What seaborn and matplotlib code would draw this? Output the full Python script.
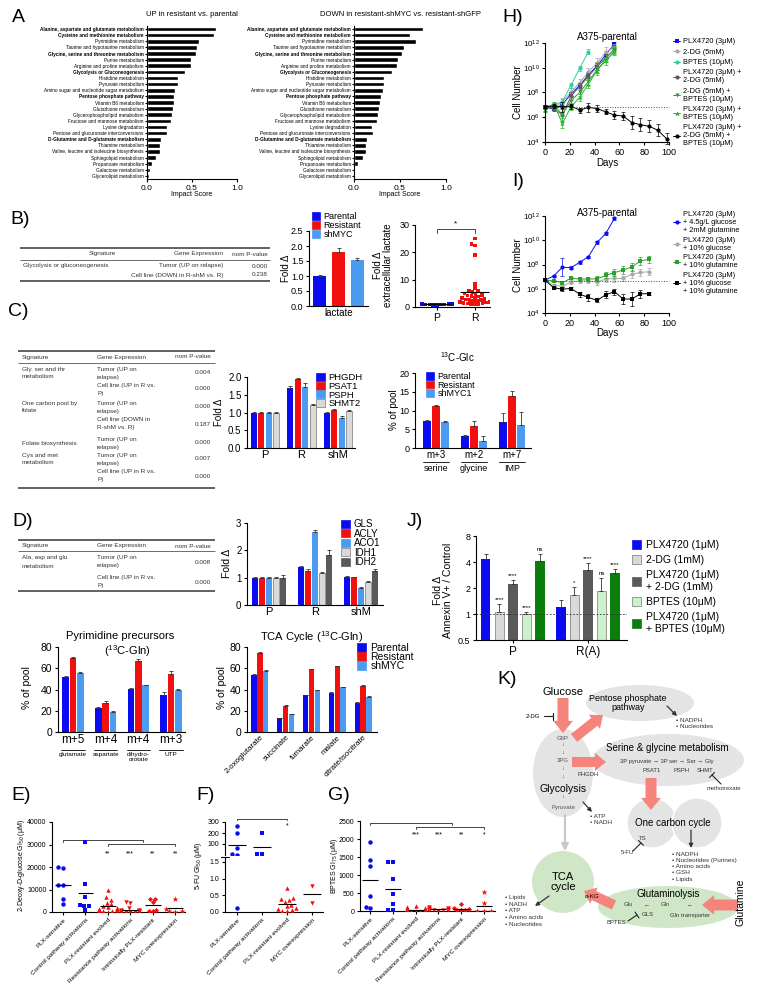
import numpy as np
import pandas as pd
import matplotlib
matplotlib.use('Agg')
import matplotlib.pyplot as plt
import seaborn as sns
from matplotlib.patches import Ellipse, Circle, FancyArrow, Patch
from matplotlib.ticker import NullLocator
from matplotlib.transforms import blended_transform_factory

# colours
BLUE = '#0b0bf2'
RED = '#f2100f'
LBLUE = '#4b9cf0'
LGRAY = '#d9d9d9'
DGRAY = '#5a5a5a'
LGREEN = '#ccf2cc'
DGREEN = '#0b7d0b'

# ---------------- A) pathway impact ----------------
pathways = [
    'Alanine, aspartate and glutamate metabolism',
    'Cysteine and methionine metabolism',
    'Pyrimidine metabolism',
    'Taurine and hypotaurine metabolism',
    'Glycine, serine and threonine metabolism',
    'Purine metabolism',
    'Arginine and proline metabolism',
    'Glycolysis or Gluconeogenesis',
    'Histidine metabolism',
    'Pyruvate metabolism',
    'Amino sugar and nucleotide sugar metabolism',
    'Pentose phosphate pathway',
    'Vitamin B6 metabolism',
    'Glutathione metabolism',
    'Glycerophospholipid metabolism',
    'Fructose and mannose metabolism',
    'Lysine degradation',
    'Pentose and glucuronate interconversions',
    'D-Glutamine and D-glutamate metabolism',
    'Thiamine metabolism',
    'Valine, leucine and isoleucine biosynthesis',
    'Sphingolipid metabolism',
    'Propanoate metabolism',
    'Galactose metabolism',
    'Glycerolipid metabolism',
]
bold_pathways = [
    'Alanine, aspartate and glutamate metabolism',
    'Cysteine and methionine metabolism',
    'Glycine, serine and threonine metabolism',
    'Glycolysis or Gluconeogenesis',
    'Pentose phosphate pathway',
    'D-Glutamine and D-glutamate metabolism',
]
impact_up = [0.77, 0.75, 0.58, 0.555, 0.54, 0.49, 0.485, 0.425, 0.345, 0.34, 0.31, 0.305,
             0.30, 0.29, 0.28, 0.27, 0.225, 0.22, 0.155, 0.14, 0.14, 0.105, 0.05, 0.03, 0.02]
impact_down = [0.75, 0.61, 0.67, 0.54, 0.52, 0.48, 0.47, 0.41, 0.33, 0.33, 0.32, 0.29,
               0.28, 0.275, 0.265, 0.25, 0.20, 0.205, 0.14, 0.13, 0.125, 0.095, 0.04, 0.007, 0.004]

# ---------------- B) lactate ----------------
lact_lines = ['Parental', 'Resistant', 'shMYC']
lact_fold = [1.0, 1.8, 1.55]
lact_err = [0.02, 0.15, 0.05]
ext_lact_p = [0.8, 0.9, 1.0, 1.1, 1.2, 0.95, 1.05, 0.85, 1.15, 1.0, 0.9, 1.1, 1.0, 0.75, 1.25]
ext_lact_r = [25, 23, 22.5, 19, 8.5, 7, 6, 5.8, 5.5, 5, 4.8, 4.5, 4.2, 4, 3.8, 3.5, 3.2, 3,
              2.8, 2.6, 2.5, 2.4, 2.2, 2, 1.9, 1.8, 1.6, 1.5, 1.4, 1.3, 1.2, 1.1, 1]

tab_b_signature = ['Glycolysis or gluconeogenesis', '']
tab_b_expression = ['Tumor (UP on relapse)', 'Cell line (DOWN in R-shM vs. R)']
tab_b_pvalue = ['0.000', '0.238']

# ---------------- C) serine / glycine ----------------
tab_c_signature = ['Gly. ser and thr\nmetabolism', '', 'One carbon pool by\nfolate', '',
                   'Folate biosynthesis', 'Cys and met\nmetabolism', '']
tab_c_expression = ['Tumor (UP on\nrelapse)', 'Cell line (UP in R vs.\nP)', 'Tumor (UP on\nrelapse)',
                    'Cell line (DOWN in\nR-shM vs. R)', 'Tumor (UP on\nrelapse)', 'Tumor (UP on\nrelapse)',
                    'Cell line (UP in R vs.\nP)']
tab_c_pvalue = ['0.004', '0.000', '0.000', '0.187', '0.000', '0.007', '0.000']

ser_groups = ['P', 'R', 'shM']
ser_genes = ['PHGDH', 'PSAT1', 'PSPH', 'SHMT2']
phgdh = [1.0, 1.70, 1.0]
psat1 = [1.0, 1.95, 1.06]
psph = [1.0, 1.73, 0.85]
shmt2 = [1.0, 1.20, 1.04]
phgdh_err = [0.02, 0.05, 0.02]
psat1_err = [0.02, 0.03, 0.04]
psph_err = [0.02, 0.10, 0.04]
shmt2_err = [0.02, 0.05, 0.04]

glc_metab = ['serine', 'glycine', 'IMP']
glc_iso = ['m+3', 'm+2', 'm+7']
glc_lines = ['Parental', 'Resistant', 'shMYC1']
glc_parental = [7.2, 3.2, 7.0]
glc_resistant = [11.2, 5.9, 14.0]
glc_shmyc1 = [6.9, 1.9, 6.1]
glc_parental_err = [0.3, 0.4, 2.3]
glc_resistant_err = [0.3, 1.3, 1.2]
glc_shmyc1_err = [0.4, 1.3, 3.5]

# ---------------- D) glutamine ----------------
tab_d_signature = ['Ala, asp and glu\nmetabolism', '']
tab_d_expression = ['Tumor (UP on\nrelapse)', 'Cell line (UP in R vs.\nP)']
tab_d_pvalue = ['0.008', '0.000']

gln_genes = ['GLS', 'ACLY', 'ACO1', 'IDH1', 'IDH2']
gls = [1.0, 1.38, 1.04]
acly = [1.0, 1.26, 1.01]
aco1 = [1.0, 2.66, 0.64]
idh1 = [1.0, 1.16, 0.85]
idh2 = [1.0, 1.82, 1.24]
gls_err = [0.02, 0.06, 0.03]
acly_err = [0.02, 0.04, 0.03]
aco1_err = [0.02, 0.08, 0.02]
idh1_err = [0.03, 0.03, 0.04]
idh2_err = [0.08, 0.20, 0.07]

pyr_keys = ['glutamate', 'aspartate', 'dihydroorotate', 'UTP']
pyr_iso = ['m+5', 'm+4', 'm+4', 'm+3']
pyr_metab = ['glutamate', 'aspartate', 'dihydro-\norotate', 'UTP']
pyr_parental = [52, 22.8, 40.6, 34.4]
pyr_resistant = [70, 27, 67, 55]
pyr_shmyc = [55.6, 19, 44, 40]
pyr_parental_err = [0.5, 0.5, 0.8, 3.5]
pyr_resistant_err = [0.5, 2.0, 2.0, 2.0]
pyr_shmyc_err = [0.5, 0.3, 0.5, 0.5]

tca_metab = ['2-oxoglutarate', 'succinate', 'fumarate', 'malate', 'citrate/isocitrate']
tca_parental = [54, 12.8, 34.7, 36.9, 27.5]
tca_resistant = [74.7, 24.4, 59, 62, 43]
tca_shmyc = [57.5, 16.9, 39.4, 41.9, 33]
tca_parental_err = [0.8, 0.8, 0.3, 0.3, 0.5]
tca_resistant_err = [0.3, 0.8, 0.5, 0.5, 0.8]
tca_shmyc_err = [0.4, 0.4, 0.4, 0.4, 0.5]

# ---------------- E, F, G) GI50 ----------------
gi_cats = ['PLX-sensitive', 'Control pathway activations', 'PLX-resistant evolved',
           'Resistance pathway activations', 'Intrinsically PLX-resistant', 'MYC overexpression']
f_cats = ['PLX-sensitive', 'Control pathway activations', 'PLX-resistant evolved', 'MYC overexpression']
gi_markers = ['o', 's', '^', 'v', 'D', '*']

e_sens = [19500, 20000, 12200, 11800, 6000, 3700]
e_ctrl = [31000, 12300, 6700, 3300, 2600, 2800, 700]
e_evol = [9800, 6500, 5500, 4200, 3500, 2800, 2200, 1800, 1500, 1200, 900, 700, 500, 400, 300, 200]
e_path = [4500, 4200, 2000, 1000, 800, 600, 500, 400, 300, 200, 150, 100, 80, 60]
e_intr = [5800, 5600, 4500, 1000, 600, 300]
e_myc = [5800, 1200, 600, 300, 200]
e_sig = ['', '', '**', '***', '**', '**']

f_sens = [267, 201, 64, 13, 4, 0.13]
f_ctrl = [200, 12, 12]
f_evol = [0.72, 0.42, 0.38, 0.35, 0.3, 0.22, 0.18, 0.12, 0.08, 0.05, 0.03, 0.02]
f_myc = [0.78, 0.28]

g_sens = [1930, 1410, 1240, 420, 100, 70]
g_ctrl = [1360, 1360, 880, 480, 200, 20, 20]
g_evol = [150, 100, 80, 60, 50, 40, 30, 25, 20, 15, 10, 8, 5, 5, 3]
g_path = [100, 90, 70, 60, 50, 40, 35, 30, 25, 20, 15, 10]
g_intr = [190, 70, 50, 40, 30, 20]
g_myc = [520, 220, 10, 5, 5]
g_sig = ['', '', '***', '***', '**', '*']

# ---------------- H, I) growth curves (log10 cell number) ----------------
h_start = 6.83
days_h = [0, 7, 14, 21, 28, 35, 42, 49, 56]
days_h_bptes = [0, 7, 14, 21, 28, 35]
days_h_triple = [0, 7, 14, 21, 28, 35, 42, 49, 56, 63, 70, 77, 84, 91, 98]
h_plx = [6.85, 6.63, 7.03, 7.88, 8.58, 9.42, 10.15, 11.05, 11.9]
h_2dg = [6.85, 6.75, 7.25, 8.05, 8.8, 9.65, 10.4, 11.25, 11.65]
h_bptes = [6.85, 7.0, 7.25, 8.6, 9.96, 11.3]
h_plx_2dg = [6.85, 6.7, 6.2, 7.7, 8.5, 9.3, 10.1, 10.8, 11.5]
h_2dg_bptes = [6.55, 7.05, 6.2, 7.35, 8.0, 8.9, 9.85, 10.55, 11.3]
h_plx_bptes = [6.6, 7.1, 5.5, 6.85, 7.6, 8.7, 9.75, 10.75, 11.45]
h_triple = [6.85, 6.9, 6.85, 6.9, 6.57, 6.8, 6.7, 6.44, 6.17, 6.1, 5.57, 5.4, 5.27, 4.95, 4.27]
h_plx_err = [0.1, 0.1, 0.15, 0.2, 0.2, 0.25, 0.3, 0.3, 0.2]
h_2dg_err = [0.1, 0.1, 0.3, 0.3, 0.3, 0.3, 0.35, 0.4, 0.3]
h_bptes_err = [0.1, 0.1, 0.2, 0.2, 0.2, 0.2]
h_plx_2dg_err = [0.1, 0.1, 0.6, 0.3, 0.3, 0.3, 0.3, 0.3, 0.3]
h_2dg_bptes_err = [0.1, 0.1, 0.5, 0.3, 0.3, 0.3, 0.3, 0.3, 0.3]
h_plx_bptes_err = [0.1, 0.1, 0.4, 0.3, 0.3, 0.3, 0.3, 0.3, 0.3]
h_triple_err = [0.1, 0.15, 0.4, 0.2, 0.2, 0.35, 0.3, 0.2, 0.3, 0.3, 0.5, 0.5, 0.5, 0.5, 0.45]
h_labels = ['PLX4720 (3μM)', '2-DG (5mM)', 'BPTES (10μM)', 'PLX4720 (3μM) +\n2-DG (5mM)',
            '2-DG (5mM) +\nBPTES (10μM)', 'PLX4720 (3μM) +\nBPTES (10μM)',
            'PLX4720 (3μM) +\n2-DG (5mM) +\nBPTES (10μM)']

i_start = 6.65
days_i = [0, 7, 14, 21, 28, 35, 42, 49, 56, 63, 70, 77, 84]
days_i_full = [0, 7, 14, 21, 28, 35, 42, 49, 56]
i_glc_gln = [6.7, 7.06, 7.77, 7.74, 8.18, 8.64, 9.82, 10.56, 11.8]
i_glc = [6.7, 6.3, 6.2, 6.54, 6.65, 6.65, 6.54, 6.8, 6.85, 6.85, 7.2, 7.35, 7.4]
i_gln = [6.7, 6.65, 6.5, 6.87, 6.8, 6.8, 6.82, 7.1, 7.33, 7.55, 7.8, 8.29, 8.43]
i_both = [6.7, 6.08, 5.97, 6.02, 5.56, 5.28, 5.04, 5.5, 5.77, 5.15, 5.15, 5.58, 5.6]
i_glc_gln_err = [0.05, 0.1, 0.75, 0.1, 0.1, 0.1, 0.1, 0.1, 0.1]
i_glc_err = [0.05, 0.1, 0.1, 0.15, 0.2, 0.2, 0.2, 0.25, 0.3, 0.2, 0.35, 0.3, 0.3]
i_gln_err = [0.05, 0.1, 0.1, 0.1, 0.15, 0.15, 0.2, 0.25, 0.3, 0.3, 0.35, 0.35, 0.3]
i_both_err = [0.05, 0.1, 0.15, 0.15, 0.2, 0.3, 0.15, 0.3, 0.25, 0.4, 0.6, 0.35, 0.1]
i_labels = ['PLX4720 (3μM)\n+ 4.5g/L glucose\n+ 2mM glutamine', 'PLX4720 (3μM)\n+ 10% glucose',
            'PLX4720 (3μM)\n+ 10% glutamine', 'PLX4720 (3μM)\n+ 10% glucose\n+ 10% glutamine']

# ---------------- J) apoptosis ----------------
j_groups = ['P', 'R(A)']
j_treat = ['PLX4720 (1μM)', '2-DG (1mM)', 'PLX4720 (1μM)\n+ 2-DG (1mM)', 'BPTES (10μM)',
           'PLX4720 (1μM)\n+ BPTES (10μM)']
j_plx = [4.34, 1.2]
j_2dg = [1.05, 1.66]
j_plx_2dg = [2.22, 3.2]
j_bptes = [1.0, 1.85]
j_plx_bptes = [4.1, 2.98]
j_plx_err = [0.55, 0.25]
j_2dg_err = [0.25, 0.4]
j_plx_2dg_err = [0.25, 0.7]
j_bptes_err = [0.05, 0.75]
j_plx_bptes_err = [0.8, 0.32]
j_plx_sig = ['', '']
j_2dg_sig = ['****', '*']
j_plx_2dg_sig = ['****', '****']
j_bptes_sig = ['****', 'ns']
j_plx_bptes_sig = ['ns', '****']

# ---------------- figure ----------------
sns.set_theme(style='ticks')
plt.rcParams['font.family'] = ['Liberation Sans', 'DejaVu Sans']
plt.rcParams.update({
    'mathtext.default': 'regular', 'axes.facecolor': 'none', 'text.color': 'black',
    'axes.labelcolor': 'black', 'xtick.color': 'black', 'ytick.color': 'black',
    'axes.edgecolor': 'black', 'axes.linewidth': 0.8,
})

W, H = 757, 994
fig = plt.figure(figsize=(W / 100, H / 100), dpi=100)
ov = fig.add_axes([0, 0, 1, 1])
ov.set_xlim(0, W)
ov.set_ylim(H, 0)
ov.axis('off')


def add_ax(l, t, r, b):
    return fig.add_axes([l / W, 1 - b / H, (r - l) / W, (b - t) / H])


def txt(x, y, s, fs=4.6, ha='center', va='center', **kw):
    ov.text(x, y, s, fontsize=fs, ha=ha, va=va, **kw)


def style(ax, fs=6.5):
    sns.despine(ax=ax)
    ax.tick_params(labelsize=fs, length=2.5, width=0.8, pad=1.5)
    ax.set_xlabel('')
    ax.set_ylabel('')


def grouped_bars(ax, groups, series, values, errors, colors, width, gap):
    df = pd.DataFrame({'group': np.tile(groups, len(series)),
                       'series': np.repeat(series, len(groups)),
                       'value': np.concatenate(values)})
    sns.barplot(data=df, x='group', y='value', hue='series', order=groups, hue_order=series,
                palette=colors, saturation=1, width=width, gap=gap, errorbar=None,
                legend=False, ax=ax)
    for cont, errs, col in zip(ax.containers, errors, colors):
        xs = [b.get_x() + b.get_width() / 2 for b in cont]
        ys = [b.get_height() for b in cont]
        ax.errorbar(xs, ys, yerr=[np.zeros(len(errs)), errs], fmt='none', ecolor='#333333',
                    elinewidth=0.6, capsize=1.2, capthick=0.6, zorder=3)
        for b in cont:
            if col in (LGRAY, LGREEN):
                b.set_edgecolor('#777777')
                b.set_linewidth(0.5)
            else:
                b.set_linewidth(0)


def patch_legend(ax, labels, colors, x, y, fs, spacing=0.05):
    handles = [Patch(facecolor=c, edgecolor='#777777' if c in (LGRAY, LGREEN) else c, lw=0.5)
               for c in colors]
    ax.legend(handles, labels, loc='upper left', bbox_to_anchor=(x / W, 1 - y / H),
              bbox_transform=fig.transFigure, frameon=False, fontsize=fs, borderpad=0,
              borderaxespad=0, handlelength=0.9, handleheight=0.9, handletextpad=0.4,
              labelspacing=spacing)


def sub_labels(ax, labels, y_line, y_text, fs, half=0.33):
    bt = blended_transform_factory(ax.transData, ov.transData)
    for i, lab in enumerate(labels):
        ax.plot([i - half, i + half], [y_line, y_line], color='black', lw=0.6, transform=bt,
                clip_on=False)
        ax.text(i, y_text, lab, transform=bt, fontsize=fs, ha='center', va='top', linespacing=0.95)


def bracket(ax, x0, x1, y, drop):
    ax.plot([x0, x0, x1, x1], [y - drop, y, y, y - drop], color='#444444', lw=0.7, clip_on=False)


def table_lines(x0, x1, ys, widths):
    for y, lw in zip(ys, widths):
        ov.plot([x0, x1], [y, y], color='#555555', lw=lw, solid_capstyle='butt')


def multiline(x, y0, s, ha, step=8):
    for k, line in enumerate(s.split('\n')):
        txt(x, y0 + k * step, line, ha=ha, color='#333333')


# panel letters
for lab, x, y in [('A', 12, 17), ('B)', 10, 219), ('C)', 8, 312), ('D)', 12, 521), ('E)', 11, 795),
                  ('F)', 196, 795), ('G)', 328, 795), ('H)', 502, 17), ('I)', 512, 182),
                  ('J)', 407, 521), ('K)', 497, 680)]:
    txt(x, y, lab, fs=14, ha='left')

# ---- A ----
for vals, (l, r), title in [(impact_up, (147, 237), 'UP in resistant vs. parental'),
                            (impact_down, (354, 446), 'DOWN in resistant-shMYC vs. resistant-shGFP')]:
    ax = add_ax(l, 26, r, 179)
    sns.barplot(x=vals, y=pathways, orient='h', color='black', saturation=1, width=0.75, ax=ax)
    style(ax, 6)
    ax.set_xlim(0, 1)
    ax.set_xticks([0, 0.5, 1.0])
    ax.set_xticklabels(['0.0', '0.5', '1.0'])
    ax.set_ylim(24.5, -0.5)
    ax.tick_params(axis='y', labelsize=3.4, length=1.5, pad=0.8)
    for lbl in ax.get_yticklabels():
        if lbl.get_text() in bold_pathways:
            lbl.set_fontweight('bold')
    txt((l + r) / 2, 14, title, fs=5.5)
    txt((l + r) / 2, 195, 'Impact Score', fs=5)

# ---- B table ----
table_lines(20, 270, [248, 260, 281], [1.3, 0.6, 1.3])
txt(116, 254, 'Signature', ha='right', color='#333333')
txt(223, 254, 'Gene Expression', ha='right', color='#333333')
txt(268, 254, 'nom P-value', ha='right', color='#333333')
for k, (sig, expr, p) in enumerate(zip(tab_b_signature, tab_b_expression, tab_b_pvalue)):
    y = 266 + 9 * k
    txt(23, y, sig, ha='left', color='#333333')
    txt(223, y, expr, ha='right', color='#333333')
    txt(268, y, p, ha='right', color='#333333')

# ---- B lactate bars ----
ax = add_ax(309, 231, 368, 306)
grouped_bars(ax, ['lactate'], lact_lines, [[v] for v in lact_fold], [[e] for e in lact_err],
             [BLUE, RED, LBLUE], width=0.96, gap=0.3)
style(ax, 6.5)
ax.set_ylim(0, 2.5)
ax.set_yticks([0, 0.5, 1.0, 1.5, 2.0, 2.5])
ax.set_xlim(-0.5, 0.5)
ax.tick_params(axis='x', labelsize=7, length=0)
patch_legend(ax, lact_lines, [BLUE, RED, LBLUE], 312, 212, 6.5, spacing=0.0)
txt(286, 268, 'Fold Δ', fs=7, rotation=90)

# ---- B extracellular lactate ----
ax = add_ax(415, 225, 490, 307)
df = pd.DataFrame({'line': ['P'] * len(ext_lact_p) + ['R'] * len(ext_lact_r),
                   'fold': ext_lact_p + ext_lact_r})
sns.swarmplot(data=df, x='line', y='fold', hue='line', palette=[BLUE, RED], marker='s', size=2.6,
              linewidth=0, legend=False, warn_thresh=1, ax=ax)
for i, vals in enumerate([ext_lact_p, ext_lact_r]):
    ax.hlines(np.mean(vals), i - 0.38, i + 0.38, color='black', lw=0.8, zorder=5)
style(ax, 6.5)
ax.set_ylim(0, 30)
ax.set_yticks([0, 10, 20, 30])
ax.set_xlim(-0.58, 1.4)
ax.tick_params(axis='x', labelsize=7.5)
bracket(ax, 0, 1, 28.6, 1.5)
ax.text(0.5, 29.2, '*', ha='center', va='bottom', fontsize=6)
ov.text(383, 265, 'Fold Δ\nextracellular lactate', fontsize=7, rotation=90, ha='center',
        va='center', linespacing=1.0)

# ---- C table ----
table_lines(18, 215, [351, 363, 488], [1.3, 0.6, 1.3])
txt(22, 357, 'Signature', ha='left', color='#333333')
txt(97, 357, 'Gene Expression', ha='left', color='#333333')
txt(211, 357, 'nom P-value', ha='right', color='#333333')
for sig, expr, p, y0 in zip(tab_c_signature, tab_c_expression, tab_c_pvalue,
                            [369, 385, 403, 420, 439, 455, 472]):
    if sig:
        if '\n' in sig:
            multiline(22, y0, sig, 'left')
        else:
            txt(22, y0 + 4, sig, ha='left', color='#333333')
    multiline(97, y0, expr, 'left')
    txt(211, y0 + 4, p, ha='right', color='#333333')

# ---- C gene bars ----
ax = add_ax(247, 377, 355, 448)
grouped_bars(ax, ser_groups, ser_genes, [phgdh, psat1, psph, shmt2],
             [phgdh_err, psat1_err, psph_err, shmt2_err], [BLUE, RED, LBLUE, LGRAY],
             width=0.82, gap=0.18)
style(ax, 7)
ax.set_ylim(0, 2.0)
ax.set_yticks([0, 0.5, 1.0, 1.5, 2.0])
ax.set_xlim(-0.49, 2.47)
ax.tick_params(axis='x', labelsize=8, length=0)
patch_legend(ax, ser_genes, [BLUE, RED, LBLUE, LGRAY], 316, 373, 6.8, spacing=-0.05)
txt(219, 412, 'Fold Δ', fs=7, rotation=90)

# ---- C 13C-Glc ----
ax = add_ax(415, 373, 531, 448)
grouped_bars(ax, glc_metab, glc_lines, [glc_parental, glc_resistant, glc_shmyc1],
             [glc_parental_err, glc_resistant_err, glc_shmyc1_err], [BLUE, RED, LBLUE],
             width=0.7, gap=0.08)
style(ax, 6.5)
ax.set_ylim(0, 20)
ax.set_yticks([0, 5, 10, 15, 20])
ax.set_xlim(-0.55, 2.5)
ax.set_xticks(range(3))
ax.set_xticklabels(glc_iso)
ax.tick_params(axis='x', labelsize=7, length=0)
sub_labels(ax, glc_metab, 462, 464, 6.5, half=0.35)
patch_legend(ax, glc_lines, [BLUE, RED, LBLUE], 426, 372, 6.5, spacing=-0.05)
txt(457, 357, '$^{13}$C-Glc', fs=7)
txt(394, 410, '% of pool', fs=7, rotation=90)

# ---- D table ----
table_lines(18, 215, [540, 551, 591], [1.3, 0.6, 1.3])
txt(22, 546, 'Signature', ha='left', color='#333333')
txt(97, 546, 'Gene Expression', ha='left', color='#333333')
txt(211, 546, 'nom P-value', ha='right', color='#333333')
for sig, expr, p, y0 in zip(tab_d_signature, tab_d_expression, tab_d_pvalue, [558, 578]):
    if sig:
        multiline(22, y0, sig, 'left')
    multiline(97, y0, expr, 'left')
    txt(211, y0 + 4, p, ha='right', color='#333333')

# ---- D gene bars ----
ax = add_ax(247, 523, 383, 605)
grouped_bars(ax, ser_groups, gln_genes, [gls, acly, aco1, idh1, idh2],
             [gls_err, acly_err, aco1_err, idh1_err, idh2_err],
             [BLUE, RED, LBLUE, LGRAY, DGRAY], width=0.75, gap=0.12)
style(ax, 7)
ax.set_ylim(0, 3)
ax.set_yticks([0, 1, 2, 3])
ax.set_xlim(-0.48, 2.48)
ax.tick_params(axis='x', labelsize=8, length=0)
patch_legend(ax, gln_genes, [BLUE, RED, LBLUE, LGRAY, DGRAY], 341, 519, 7, spacing=-0.05)
txt(227, 563, 'Fold Δ', fs=7.5, rotation=90)

# ---- Pyrimidine precursors ----
ax = add_ax(58, 647, 185, 732)
grouped_bars(ax, pyr_keys, lact_lines, [pyr_parental, pyr_resistant, pyr_shmyc],
             [pyr_parental_err, pyr_resistant_err, pyr_shmyc_err], [BLUE, RED, LBLUE],
             width=0.68, gap=0.1)
style(ax, 7.5)
ax.set_ylim(0, 80)
ax.set_yticks([0, 20, 40, 60, 80])
ax.set_xlim(-0.46, 3.43)
ax.set_xticks(range(4))
ax.set_xticklabels(pyr_iso)
ax.tick_params(axis='x', labelsize=8.5, length=0)
sub_labels(ax, pyr_metab, 750, 752, 4.6, half=0.36)
txt(120, 636, 'Pyrimidine precursors', fs=8)
txt(127, 651, '($^{13}$C-Gln)', fs=8)
txt(27, 688, '% of pool', fs=7.5, rotation=90)

# ---- TCA cycle ----
ax = add_ax(247, 647, 377, 732)
grouped_bars(ax, tca_metab, lact_lines, [tca_parental, tca_resistant, tca_shmyc],
             [tca_parental_err, tca_resistant_err, tca_shmyc_err], [BLUE, RED, LBLUE],
             width=0.68, gap=0.1)
style(ax, 7.5)
ax.set_ylim(0, 80)
ax.set_yticks([0, 20, 40, 60, 80])
ax.set_xlim(-0.5, 4.54)
ax.set_xticks(range(5))
ax.set_xticklabels(tca_metab, rotation=45, ha='right', rotation_mode='anchor')
ax.tick_params(axis='x', labelsize=5.8, length=0)
patch_legend(ax, lact_lines, [BLUE, RED, LBLUE], 357, 643, 7.5, spacing=-0.1)
txt(312, 637, 'TCA Cycle ($^{13}$C-Gln)', fs=8)
txt(222, 688, '% of pool', fs=7.5, rotation=90)


# ---- E, F, G GI50 scatter ----
def gi_points(ax, cats, cat, vals, mk, col):
    sz = 4.5 if mk == '*' else (2.6 if mk == 'D' else 3.2)
    if len(vals):
        sns.swarmplot(x=[cat] * len(vals), y=vals, order=cats, marker=mk, color=col, size=sz,
                      linewidth=0, warn_thresh=1, ax=ax)


def gi_mean(ax, cats, cat, vals):
    i = cats.index(cat)
    ax.hlines(np.mean(vals), i - 0.35, i + 0.35, color='black', lw=0.8, zorder=5)


def gi_xlabels(ax, cats):
    ax.set_xticks(range(len(cats)))
    ax.set_xticklabels(cats, rotation=45, ha='right', rotation_mode='anchor')
    ax.tick_params(axis='x', labelsize=4.6)


gi_colors = [BLUE, BLUE, RED, RED, RED, RED]

ax = add_ax(52, 822, 185, 912)
for cat, vals, mk, col in zip(gi_cats, [e_sens, e_ctrl, e_evol, e_path, e_intr, e_myc], gi_markers,
                              gi_colors):
    gi_points(ax, gi_cats, cat, vals, mk, col)
    gi_mean(ax, gi_cats, cat, vals)
style(ax, 5)
ax.set_ylim(0, 40000)
ax.set_yticks([0, 10000, 20000, 30000, 40000])
ax.set_xlim(-0.49, 5.44)
gi_xlabels(ax, gi_cats)
bracket(ax, 0, 3.55, 32200, 900)
bracket(ax, 2, 5, 30400, 900)
for i, s in enumerate(e_sig):
    ax.text(i, 26000, s, ha='center', va='center', fontsize=5)
txt(22, 866, '2-Deoxy-D-glucose GI$_{50}$ (μM)', fs=5, rotation=90)

f_split = 1.62
ax_top = add_ax(225, 822, 323, 855)
ax_bot = add_ax(225, 858, 323, 912)
for cat, vals, mk, col in zip(f_cats, [f_sens, f_ctrl, f_evol, f_myc], ['o', 's', '^', 'v'],
                              [BLUE, BLUE, RED, RED]):
    gi_points(ax_top, f_cats, cat, [v for v in vals if v > f_split], mk, col)
    gi_points(ax_bot, f_cats, cat, [v for v in vals if v <= f_split], mk, col)
    gi_mean(ax_top if np.mean(vals) > f_split else ax_bot, f_cats, cat, vals)
for a in (ax_top, ax_bot):
    style(a, 5)
    a.set_xlim(-0.48, 3.44)
ax_top.set_ylim(0, 300)
ax_top.set_yticks([100, 200, 300])
ax_top.spines['bottom'].set_visible(False)
ax_top.tick_params(axis='x', bottom=False, labelbottom=False)
ax_bot.set_ylim(0, f_split)
ax_bot.set_yticks([0, 0.5, 1.0, 1.5])
ax_bot.set_yticklabels(['0.0', '0.5', '1.0', '1.5'])
gi_xlabels(ax_bot, f_cats)
bracket(ax_top, 0, 2, 327, 12)
ax_top.text(2, 262, '*', ha='center', va='center', fontsize=5)
ov.plot([221, 229], [856.5, 856.5], color='black', lw=0.8)
txt(198, 866, '5-FU GI$_{50}$ (μM)', fs=5, rotation=90)

ax = add_ax(360, 821, 495, 911)
for cat, vals, mk, col in zip(gi_cats, [g_sens, g_ctrl, g_evol, g_path, g_intr, g_myc], gi_markers,
                              gi_colors):
    gi_points(ax, gi_cats, cat, vals, mk, col)
    gi_mean(ax, gi_cats, cat, vals)
style(ax, 5)
ax.set_ylim(0, 2500)
ax.set_yticks([0, 500, 1000, 1500, 2000, 2500])
ax.set_xlim(-0.44, 5.48)
gi_xlabels(ax, gi_cats)
bracket(ax, 0, 3.6, 2444, 60)
bracket(ax, 2, 5, 2333, 60)
for i, s in enumerate(g_sig):
    ax.text(i, 2111, s, ha='center', va='center', fontsize=5)
txt(334, 866, 'BPTES GI$_{75}$ (μM)', fs=5, rotation=90)


# ---- H, I growth curves ----
def growth(ax, days, logv, loge, col, mk, label):
    y = 10 ** np.array(logv)
    lo = y - 10 ** (np.array(logv) - np.array(loge))
    hi = 10 ** (np.array(logv) + np.array(loge)) - y
    ax.errorbar(days, y, yerr=[lo, hi], fmt='none', ecolor=col, elinewidth=0.5, capsize=1.2,
                capthick=0.5, clip_on=False)
    sns.lineplot(x=days, y=y, color=col, marker=mk, markersize=3, markeredgewidth=0,
                 linewidth=0.7, label=label, ax=ax)


def growth_axes(ax, start):
    ax.set_yscale('log')
    ax.set_ylim(1e4, 1e12)
    ax.set_yticks([1e4, 1e6, 1e8, 1e10, 1e12])
    ax.set_yticklabels(['10$^{4}$', '10$^{6}$', '10$^{8}$', '10$^{10}$', '10$^{12}$'])
    ax.yaxis.set_minor_locator(NullLocator())
    ax.set_xlim(0, 100)
    ax.set_xticks([0, 20, 40, 60, 80, 100])
    ax.axhline(10 ** start, color='#444444', ls=':', lw=0.7)
    style(ax, 6.5)
    ax.tick_params(axis='y', labelsize=5.8, pad=1)
    for ln in ax.lines:
        ln.set_clip_on(False)


ax = add_ax(545, 43, 669, 142)
h_series = [(days_h, h_plx, h_plx_err, BLUE, 's'),
            (days_h, h_2dg, h_2dg_err, '#a8a8a8', 'o'),
            (days_h_bptes, h_bptes, h_bptes_err, '#33cc99', 'o'),
            (days_h, h_plx_2dg, h_plx_2dg_err, DGRAY, 'o'),
            (days_h, h_2dg_bptes, h_2dg_bptes_err, '#3a9a3a', 'v'),
            (days_h, h_plx_bptes, h_plx_bptes_err, '#22bb22', '^'),
            (days_h_triple, h_triple, h_triple_err, 'black', 'o')]
for (d, v, e, c, m), lab in zip(h_series, h_labels):
    growth(ax, d, v, e, c, m, lab)
growth_axes(ax, h_start)
hd, hl = ax.get_legend_handles_labels()
ax.legend(hd, hl, loc='upper left', bbox_to_anchor=(673 / W, 1 - 38 / H),
          bbox_transform=fig.transFigure, fontsize=5.3, frameon=False, handlelength=1.0,
          handletextpad=0.4, labelspacing=0.45, borderpad=0, borderaxespad=0)
txt(607, 37, 'A375-parental', fs=7)
txt(607, 163, 'Days', fs=7)
txt(518, 92, 'Cell Number', fs=7, rotation=90)

ax = add_ax(545, 216, 669, 313)
i_series = [(days_i_full, i_glc_gln, i_glc_gln_err, BLUE, 'o'),
            (days_i, i_glc, i_glc_err, '#a8a8a8', 'o'),
            (days_i, i_gln, i_gln_err, '#2aa02a', 's'),
            (days_i, i_both, i_both_err, 'black', 's')]
for (d, v, e, c, m), lab in zip(i_series, i_labels):
    growth(ax, d, v, e, c, m, lab)
growth_axes(ax, i_start)
hd, hl = ax.get_legend_handles_labels()
ax.legend(hd, hl, loc='upper left', bbox_to_anchor=(673 / W, 1 - 211 / H),
          bbox_transform=fig.transFigure, fontsize=5.3, frameon=False, handlelength=1.0,
          handletextpad=0.4, labelspacing=0.35, borderpad=0, borderaxespad=0)
txt(607, 213, 'A375-parental', fs=7)
txt(607, 333, 'Days', fs=7)
txt(518, 265, 'Cell Number', fs=7, rotation=90)

# ---- J ----
ax = add_ax(476, 536, 627, 640)
j_colors = [BLUE, LGRAY, DGRAY, LGREEN, DGREEN]
grouped_bars(ax, j_groups, j_treat, [j_plx, j_2dg, j_plx_2dg, j_bptes, j_plx_bptes],
             [j_plx_err, j_2dg_err, j_plx_2dg_err, j_bptes_err, j_plx_bptes_err], j_colors,
             width=0.9, gap=0.3)
for cont, errs, sigs in zip(ax.containers, [j_plx_err, j_2dg_err, j_plx_2dg_err, j_bptes_err, j_plx_bptes_err],
                            [j_plx_sig, j_2dg_sig, j_plx_2dg_sig, j_bptes_sig, j_plx_bptes_sig]):
    for b, e, s in zip(cont, errs, sigs):
        ax.text(b.get_x() + b.get_width() / 2, (b.get_height() + e) * 1.06, s, ha='center',
                va='bottom', fontsize=4.5)
ax.set_yscale('log', base=2)
ax.set_ylim(0.5, 8)
ax.set_yticks([0.5, 1, 2, 4, 8])
ax.set_yticklabels(['0.5', '1', '2', '4', '8'])
ax.yaxis.set_minor_locator(NullLocator())
ax.axhline(1, color='#333333', ls=(0, (2, 2)), lw=0.6)
style(ax, 6.5)
ax.set_xlim(-0.49, 1.52)
ax.tick_params(axis='x', labelsize=8.5)
patch_legend(ax, j_treat, j_colors, 632, 540, 7.5, spacing=0.5)
ov.text(443, 590, 'Fold Δ\nAnnexin V+ / Control', fontsize=7.5, rotation=90, ha='center',
        va='center', linespacing=1.1)

# ---- K diagram ----
SAL = '#f5857c'
EG = '#e4e4e4'
GG = '#cfe7c7'
ov.add_patch(Ellipse((640, 703), 108, 36, fc=EG, ec='none', zorder=1))
ov.add_patch(Ellipse((668, 760), 152, 52, fc=EG, ec='none', zorder=1))
ov.add_patch(Ellipse((563, 773), 60, 88, fc=EG, ec='none', zorder=1))
ov.add_patch(Circle((652, 823), 25, fc=EG, ec='white', lw=1, zorder=1))
ov.add_patch(Circle((697, 823), 25, fc=EG, ec='white', lw=1, zorder=1))
ov.add_patch(Circle((563, 882), 31, fc=GG, ec='none', zorder=1))
ov.add_patch(Ellipse((668, 907), 140, 42, fc=GG, ec='none', zorder=1))


def fat_arrow(x0, y0, x1, y1, w=10):
    ov.add_patch(FancyArrow(x0, y0, x1 - x0, y1 - y0, width=w, head_width=w * 1.8,
                            head_length=w * 1.1, length_includes_head=True, fc=SAL, ec='none',
                            zorder=2))


def thin_arrow(x0, y0, x1, y1, col='#333333', lw=0.9, ms=6):
    ov.annotate('', xy=(x1, y1), xytext=(x0, y0),
                arrowprops=dict(arrowstyle='-|>', color=col, lw=lw, mutation_scale=ms,
                                shrinkA=0, shrinkB=0))


def inhibit(x0, y0, x1, y1, bar=3.5):
    ov.plot([x0, x1], [y0, y1], color='#222222', lw=0.8)
    dx, dy = x1 - x0, y1 - y0
    n = np.hypot(dx, dy)
    px, py = -dy / n * bar, dx / n * bar
    ov.plot([x1 - px, x1 + px], [y1 - py, y1 + py], color='#222222', lw=0.8)


fat_arrow(563, 698, 563, 733, 11)
fat_arrow(574, 738, 603, 715, 10)
fat_arrow(572, 762, 606, 762, 10)
fat_arrow(651, 778, 651, 810, 11)
fat_arrow(738, 905, 702, 905, 11)
fat_arrow(614, 905, 584, 891, 10)
thin_arrow(667, 706, 677, 716)
thin_arrow(583, 802, 592, 812)
thin_arrow(691, 830, 691, 848)
thin_arrow(549, 896, 535, 906)
thin_arrow(565, 815, 565, 851, col='#c8c8c8', lw=1.6, ms=10)
inhibit(544, 716, 553, 716)
inhibit(721, 784, 712, 775)
inhibit(633, 851, 641, 843)
inhibit(628, 921, 637, 915)

txt(563, 692, 'Glucose', fs=8)
txt(533, 716, '2-DG', fs=4.3)
txt(628, 703, 'Pentose phosphate\npathway', fs=6.5, linespacing=1.0)
multiline(676, 721, '• NADPH\n• Nucleotides', 'left', step=6)
for s, y in [('G6P', 738), ('↓', 745), ('↓', 753), ('3PG', 761), ('↓', 769), ('↓', 777),
             ('↓', 797), ('Pyruvate', 807)]:
    txt(563, y, s, fs=4.3, color='#555555')
txt(563, 789, 'Glycolysis', fs=7.5)
txt(588, 775, 'PHGDH', fs=4.2, color='#333333')
txt(667, 748, 'Serine & glycine metabolism', fs=7)
txt(667, 762, '3P pyruvate → 3P ser → Ser → Gly', fs=4.2, color='#333333')
for s, x in [('PSAT1', 652), ('PSPH', 681), ('SHMT', 705)]:
    txt(x, 770, s, fs=4.2, color='#333333')
txt(724, 788, 'methotrexate', fs=4.2, color='#333333')
multiline(590, 816, '• ATP\n• NADH', 'left', step=7)
txt(673, 823, 'One carbon cycle', fs=7)
txt(643, 838, 'TS', fs=4.3, color='#333333')
txt(627, 853, '5-FU', fs=4.3, color='#333333')
multiline(672, 854, '• NADPH\n• Nucleotides (Purines)\n• Amino acids\n• GSH\n• Lipids', 'left',
          step=6.3)
txt(563, 882, 'TCA\ncycle', fs=8, linespacing=1.1)
multiline(505, 898, '• Lipids\n• NADH\n• ATP\n• Amino acids\n• Nucleotides', 'left', step=6.5)
txt(668, 894, 'Glutaminolysis', fs=7)
for s, x in [('Glu', 628), ('←', 647), ('Gln', 665), ('←', 690)]:
    txt(x, 905, s, fs=4.3, color='#444444')
txt(648, 915, 'GLS', fs=4.3, color='#333333')
txt(690, 915, 'Gln transporter', fs=4.3, color='#333333')
txt(616, 922, 'BPTES', fs=4.3, color='#333333')
txt(592, 897, 'α-KG', fs=4.5)
txt(740, 902, 'Glutamine', fs=7.5, rotation=90)

fig.savefig('out.png', dpi=100)
